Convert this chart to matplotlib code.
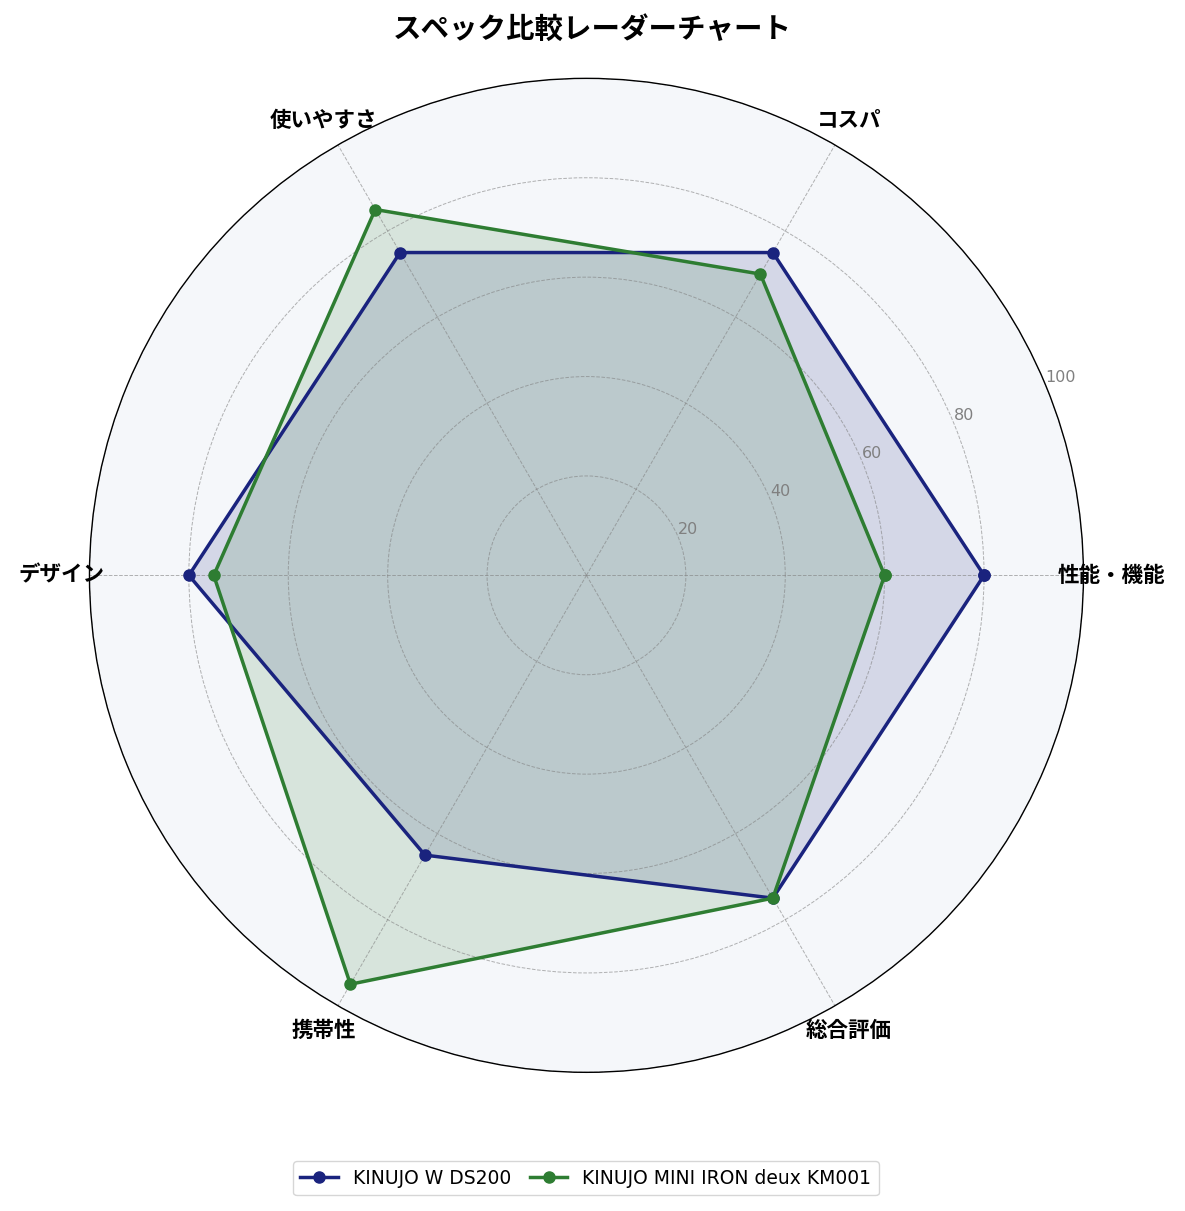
import numpy as np
import matplotlib
matplotlib.use("Agg")
import matplotlib.pyplot as plt

plt.rcParams['font.family'] = ['Noto Sans CJK JP', 'DejaVu Sans']

categories = ["性能・機能", "コスパ", "使いやすさ", "デザイン", "携帯性", "総合評価"]
ds200 = [80, 75, 75, 80, 65, 75]
km001 = [60, 70, 85, 75, 95, 75]
names = ["KINUJO W DS200", "KINUJO MINI IRON deux KM001"]
colors = ["#1a237e", "#2e7d32"]
rticks = [20, 40, 60, 80, 100]

n = len(categories)
angles = np.linspace(0, 2 * np.pi, n, endpoint=False).tolist()
angles += angles[:1]

fig = plt.figure(figsize=(11.85, 12.11), dpi=100)
ax = fig.add_axes([0.0755, 0.1145, 0.8388, 0.8208], polar=True)
ax.set_facecolor("#f5f7fa")

for vals, name, c in zip([ds200, km001], names, colors):
    v = vals + vals[:1]
    ax.plot(angles, v, color=c, linewidth=2.5, marker="o", markersize=8, label=name)
    ax.fill(angles, v, color=c, alpha=0.15)

ax.set_ylim(0, 100)
ax.set_xticks(angles[:-1])
ax.set_xticklabels(categories, fontsize=15.5, fontweight="bold")
ax.tick_params(axis="x", pad=10)
ax.set_yticks(rticks)
ax.set_yticklabels([str(t) for t in rticks], fontsize=11.5, color="gray",
                   family=["DejaVu Sans"])
ax.set_rlabel_position(22.5)
ax.grid(color="gray", linestyle="--", linewidth=0.7, alpha=0.6)
ax.spines["polar"].set_color("black")
ax.spines["polar"].set_linewidth(1.0)

fig.suptitle("スペック比較レーダーチャート", fontsize=20.5, fontweight="bold", y=0.987)
fig.legend(loc="center", bbox_to_anchor=(0.4945, 0.027), ncol=2,
           prop={"family": ["DejaVu Sans"], "size": 13.5},
           handlelength=2.0, columnspacing=1.0)

fig.savefig("out.png", dpi=100)
